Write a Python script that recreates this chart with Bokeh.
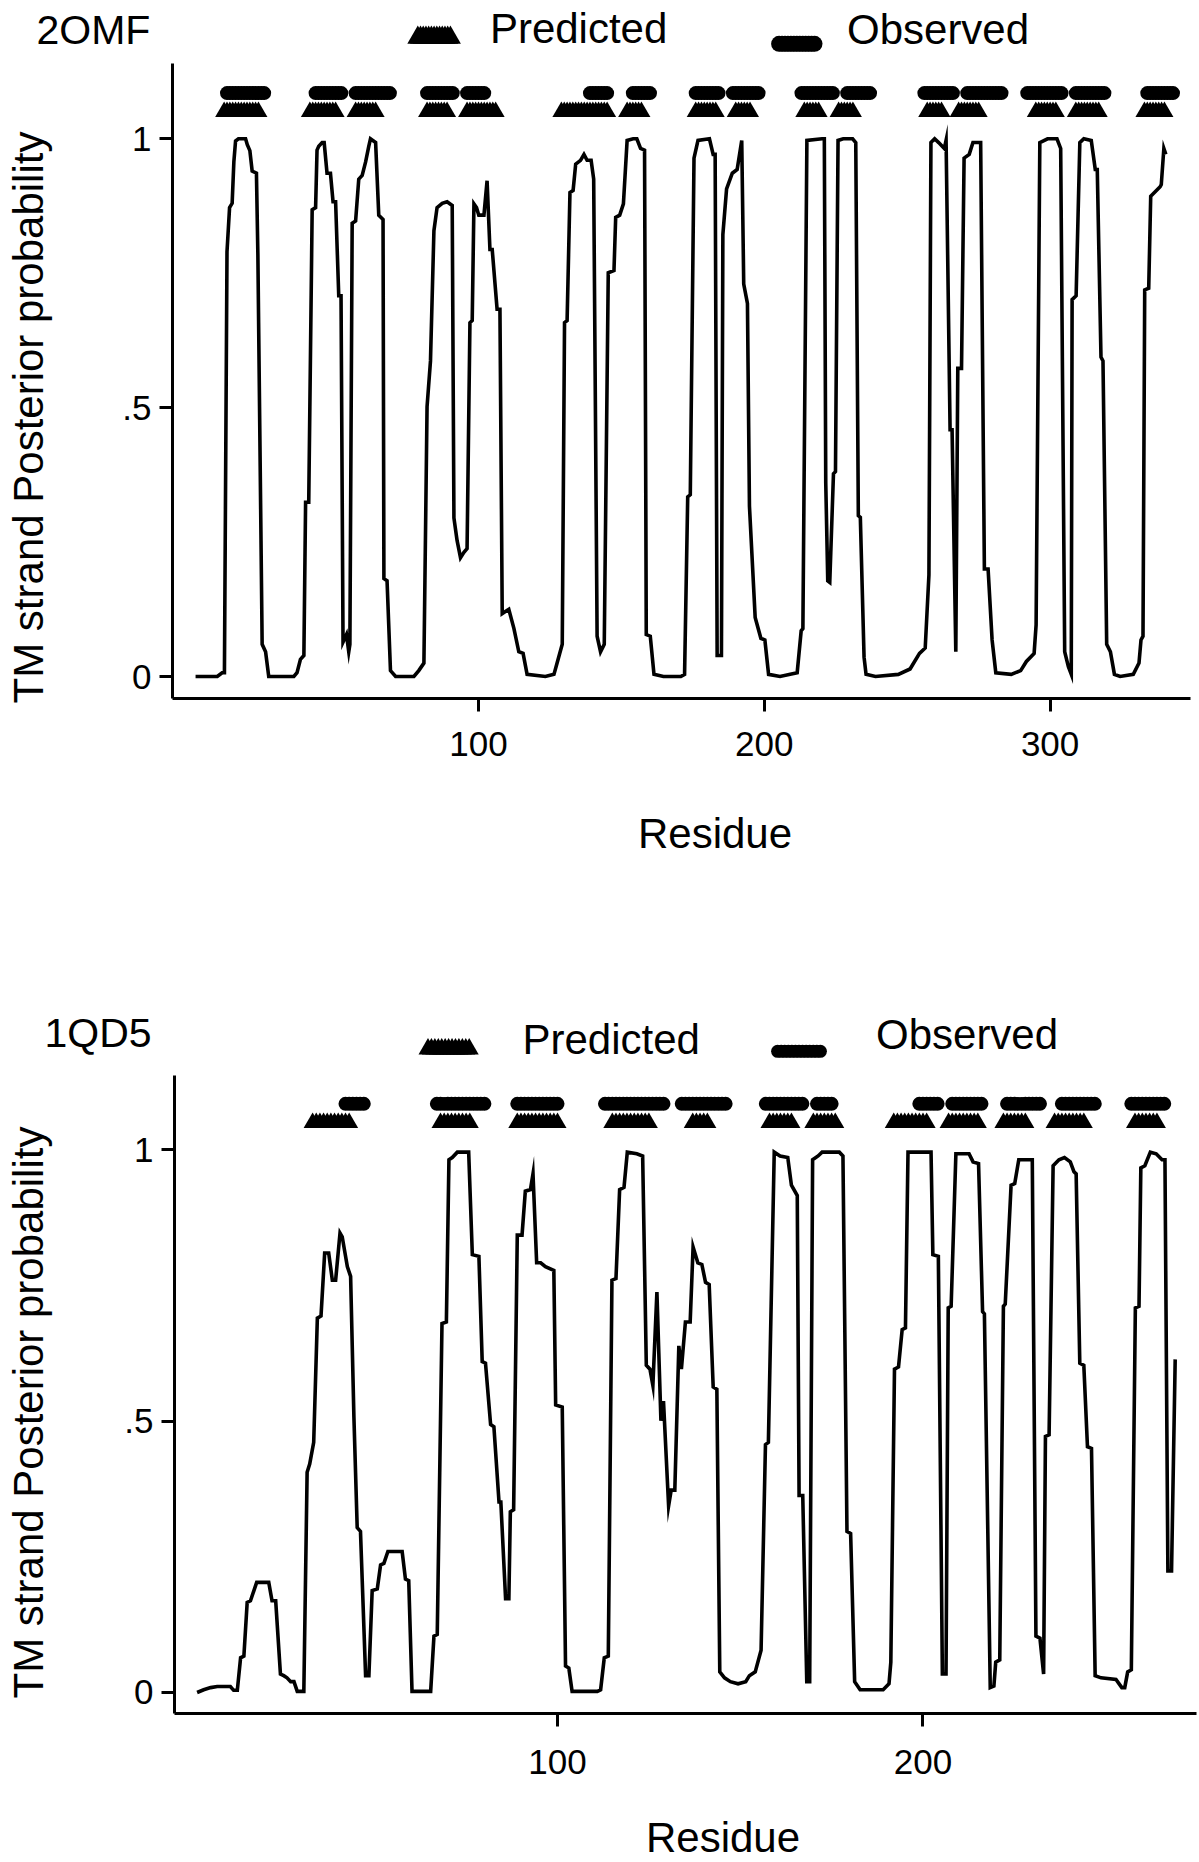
import numpy as np
from bokeh.plotting import figure
from bokeh.models import Range1d, FixedTicker, Label
from bokeh.layouts import column
from bokeh.embed import file_html
from bokeh.resources import INLINE

FONT = "Liberation Sans"

# ---------------- 2OMF data ----------------
omf_residue = [1.0, 8.6, 10.3, 11.1, 12.0, 12.9, 13.8, 14.4, 15.0, 16.0, 18.5, 19.1, 20.0, 20.8, 22.3, 22.8, 24.3, 25.5, 26.6, 35.4,
               36.5, 37.7, 38.9, 39.5, 40.6, 41.8, 43.0, 43.5, 44.1, 45.3, 46.0, 47.0, 48.2, 49.1, 50.0, 51.1, 51.9, 52.6, 53.8, 54.6,
               55.0, 55.8, 57.0, 58.1, 59.3, 60.5, 61.6, 62.2, 64.0, 65.1, 66.6, 66.9, 68.0, 69.2, 71.0, 77.4, 79.1, 80.9, 82.0, 83.2,
               84.4, 85.5, 87.3, 89.0, 90.8, 91.4, 92.5, 93.7, 94.9, 96.0, 97.0, 97.8, 98.4, 99.3, 100.1, 101.9, 103.0, 104.0, 104.8, 106.5,
               107.5, 108.3, 110.6, 112.4, 114.1, 115.6, 117.0, 123.4, 126.4, 127.5, 129.3, 130.1, 131.0, 132.0, 133.1, 134.0, 135.7, 136.9, 138.0, 139.4,
               140.3, 141.5, 142.7, 144.0, 145.4, 147.4, 148.0, 149.4, 150.7, 152.0, 154.1, 155.4, 156.7, 158.1, 158.7, 160.1, 161.4, 164.7, 170.8, 172.1,
               173.2, 174.1, 175.4, 176.8, 180.8, 182.1, 182.8, 183.5, 185.0, 185.5, 186.8, 188.8, 190.5, 192.1, 192.8, 194.1, 194.8, 196.8, 198.8, 200.2,
               201.5, 205.5, 211.5, 212.9, 213.5, 214.9, 220.2, 221.0, 221.5, 222.2, 222.9, 224.2, 224.9, 225.8, 227.6, 230.9, 232.0, 232.9, 233.6, 234.9,
               235.6, 238.9, 246.9, 251.0, 254.3, 256.3, 257.6, 258.3, 259.6, 261.0, 263.0, 263.6, 265.0, 265.7, 267.0, 267.7, 269.0, 269.9, 271.7, 273.0,
               275.7, 277.0, 278.3, 279.7, 281.0, 286.4, 289.7, 291.7, 294.4, 295.1, 296.4, 299.1, 302.4, 303.7, 305.1, 306.4, 307.4, 307.7, 309.1, 310.4,
               311.8, 314.4, 315.8, 316.5, 317.8, 318.5, 319.8, 321.1, 322.5, 324.5, 329.1, 331.1, 331.8, 332.5, 333.1, 334.5, 335.2, 336.5, 338.5, 338.9,
               339.8, 340.5]
omf_prob = [0.0, 0.0, 0.007, 0.007, 0.79, 0.872, 0.88, 0.957, 0.996, 1.0, 1.0, 0.989, 0.978, 0.94, 0.936, 0.786, 0.06, 0.046, 0.0, 0.0,
            0.007, 0.032, 0.039, 0.324, 0.324, 0.868, 0.872, 0.979, 0.986, 0.993, 0.993, 0.936, 0.936, 0.883, 0.883, 0.708, 0.708, 0.064, 0.078, 0.046,
            0.06, 0.843, 0.847, 0.925, 0.932, 0.957, 0.986, 1.0, 0.993, 0.858, 0.85, 0.182, 0.178, 0.011, 0.0, 0.0, 0.011, 0.025, 0.502, 0.587,
            0.829, 0.872, 0.88, 0.883, 0.876, 0.295, 0.253, 0.221, 0.231, 0.238, 0.658, 0.662, 0.879, 0.872, 0.858, 0.858, 0.922, 0.794, 0.794, 0.683,
            0.683, 0.117, 0.125, 0.089, 0.046, 0.043, 0.004, 0.0, 0.004, 0.025, 0.06, 0.658, 0.662, 0.9, 0.904, 0.953, 0.96, 0.971, 0.96, 0.96,
            0.925, 0.075, 0.046, 0.06, 0.751, 0.755, 0.854, 0.858, 0.879, 0.997, 1.0, 1.0, 0.982, 0.979, 0.078, 0.075, 0.004, 0.0, 0.0, 0.004,
            0.334, 0.338, 0.964, 0.997, 1.0, 0.971, 0.971, 0.039, 0.039, 0.822, 0.907, 0.936, 0.943, 0.997, 0.73, 0.694, 0.317, 0.11, 0.071, 0.068,
            0.004, 0.0, 0.007, 0.085, 0.089, 0.997, 1.0, 1.0, 0.36, 0.178, 0.175, 0.377, 0.381, 0.997, 1.0, 1.0, 0.993, 0.299, 0.296, 0.036,
            0.004, 0.0, 0.004, 0.014, 0.043, 0.053, 0.189, 0.993, 1.0, 0.993, 0.982, 0.997, 0.459, 0.459, 0.046, 0.573, 0.573, 0.964, 0.971, 0.993,
            0.993, 0.2, 0.2, 0.068, 0.007, 0.004, 0.011, 0.028, 0.043, 0.096, 0.993, 1.0, 1.0, 0.982, 0.046, 0.018, 0.004, 0.701, 0.708, 0.993,
            1.0, 0.997, 0.943, 0.943, 0.594, 0.587, 0.06, 0.046, 0.004, 0.0, 0.004, 0.025, 0.068, 0.075, 0.719, 0.722, 0.893, 0.9, 0.911, 0.915,
            0.982, 0.971]
omf_predicted = [(11, 23), (41, 50), (57, 64), (82, 89), (96, 106), (129, 145), (152, 157), (176, 183), (190, 195),
                 (214, 219), (226, 231), (257, 262), (268, 275), (295, 302), (309, 317), (333, 340)]
omf_observed = [(12, 25), (43, 52), (57, 69), (82, 91), (96, 102), (139, 145), (154, 160), (176, 184), (189, 198),
                (213, 224), (229, 237), (256, 266), (271, 283), (292, 304), (309, 319), (334, 343)]
omf_xticks = [100, 200, 300]

# ---------------- 1QD5 data ----------------
qd5_residue = [1.4, 3.2, 5.1, 6.9, 10.5, 11.4, 12.4, 13.3, 14.2, 15.1, 16.0, 17.7, 21.0, 21.9, 22.9, 24.2, 25.1, 26.0, 27.0, 27.9,
               28.8, 30.6, 31.5, 32.2, 33.3, 34.3, 35.3, 36.3, 37.4, 38.4, 39.3, 40.5, 41.1, 42.5, 43.4, 44.3, 45.2, 46.1, 47.5, 48.4,
               49.3, 50.7, 51.6, 52.5, 53.6, 57.5, 58.4, 59.3, 60.2, 65.3, 66.2, 67.1, 68.4, 69.6, 70.3, 71.2, 72.6, 75.7, 76.7, 78.5,
               79.4, 80.3, 81.7, 82.6, 84.0, 84.5, 85.8, 86.7, 87.1, 88.0, 89.0, 90.3, 91.2, 92.6, 93.3, 94.3, 95.4, 96.7, 99.0, 99.5,
               101.3, 102.2, 103.1, 104.0, 110.9, 111.8, 112.8, 113.9, 114.9, 116.0, 117.0, 118.2, 119.1, 121.7, 123.3, 124.3, 125.3, 126.1, 127.2, 128.3,
               129.0, 130.4, 131.1, 132.1, 133.2, 133.9, 135.0, 136.3, 137.1, 138.4, 139.5, 140.5, 141.5, 142.6, 143.6, 144.4, 145.7, 147.3, 149.4, 151.5,
               152.5, 154.1, 155.7, 156.9, 157.7, 159.3, 160.9, 163.0, 164.0, 165.6, 166.1, 167.1, 168.2, 169.0, 169.8, 171.3, 172.4, 177.1, 178.1, 179.2,
               180.2, 181.3, 182.8, 189.1, 190.7, 191.2, 192.2, 193.3, 194.3, 195.2, 195.9, 202.2, 202.7, 204.2, 205.3, 206.3, 206.9, 207.7, 209.0, 212.6,
               213.7, 215.2, 216.3, 216.8, 218.4, 219.4, 219.9, 221.0, 222.0, 222.5, 224.1, 225.1, 226.2, 229.9, 230.9, 232.0, 233.0, 233.5, 234.5, 235.6,
               237.2, 238.7, 240.3, 241.3, 241.9, 242.9, 244.0, 245.0, 246.1, 247.1, 248.7, 252.8, 254.4, 255.2, 256.0, 257.0, 258.1, 259.1, 259.6, 260.7,
               262.2, 263.8, 265.4, 266.2, 267.0, 268.0, 269.0]
qd5_prob = [0.0, 0.005, 0.009, 0.011, 0.011, 0.004, 0.004, 0.064, 0.067, 0.166, 0.169, 0.203, 0.203, 0.169, 0.169, 0.034, 0.031, 0.027, 0.02, 0.02,
            0.002, 0.002, 0.406, 0.421, 0.461, 0.69, 0.694, 0.81, 0.81, 0.76, 0.76, 0.847, 0.84, 0.785, 0.767, 0.508, 0.304, 0.297, 0.031, 0.031,
            0.188, 0.191, 0.235, 0.238, 0.26, 0.26, 0.209, 0.206, 0.002, 0.002, 0.104, 0.107, 0.68, 0.683, 0.982, 0.986, 0.996, 0.996, 0.807, 0.804,
            0.61, 0.607, 0.494, 0.49, 0.351, 0.351, 0.173, 0.173, 0.333, 0.337, 0.843, 0.843, 0.924, 0.927, 0.956, 0.792, 0.792, 0.785, 0.778, 0.53,
            0.526, 0.049, 0.045, 0.002, 0.002, 0.005, 0.064, 0.067, 0.76, 0.763, 0.927, 0.931, 0.996, 0.993, 0.989, 0.603, 0.596, 0.566, 0.738, 0.501,
            0.537, 0.344, 0.373, 0.373, 0.639, 0.596, 0.683, 0.683, 0.821, 0.792, 0.789, 0.756, 0.752, 0.563, 0.559, 0.038, 0.027, 0.02, 0.016, 0.02,
            0.031, 0.038, 0.078, 0.457, 0.461, 0.996, 0.989, 0.986, 0.935, 0.916, 0.363, 0.363, 0.02, 0.02, 0.982, 0.989, 0.996, 0.996, 0.989, 0.297,
            0.293, 0.02, 0.005, 0.005, 0.016, 0.056, 0.596, 0.6, 0.669, 0.672, 0.996, 0.996, 0.807, 0.804, 0.034, 0.034, 0.709, 0.712, 0.993, 0.993,
            0.978, 0.975, 0.702, 0.698, 0.009, 0.012, 0.056, 0.06, 0.712, 0.716, 0.935, 0.938, 0.982, 0.982, 0.104, 0.1, 0.034, 0.472, 0.475, 0.971,
            0.982, 0.986, 0.978, 0.96, 0.956, 0.607, 0.603, 0.453, 0.45, 0.031, 0.027, 0.024, 0.009, 0.009, 0.038, 0.042, 0.709, 0.712, 0.967, 0.971,
            0.996, 0.993, 0.982, 0.982, 0.224, 0.224, 0.614]
qd5_predicted = [(33, 43), (68, 76), (89, 100), (115, 125), (137, 141), (158, 164), (170, 176), (192, 201),
                 (207, 215), (222, 228), (236, 244), (258, 264)]
qd5_observed = [(42, 47), (67, 80), (89, 100), (113, 129), (134, 146), (157, 167), (171, 175), (199, 204),
                (208, 216), (223, 232), (238, 247), (257, 266)]
qd5_xticks = [100, 200]

y_ticks = [0, 0.5, 1]
y_tick_labels = {0: "0", 0.5: ".5", 1: "1"}
PRED_LEVEL = 1.05
OBS_LEVEL = 1.085


def expand(strands):
    out = []
    for a, b in strands:
        out.extend(range(a, b + 1))
    return out


PAGE_W = 1199
BASELINE_FIX = 13  # px: Label's alphabetic baseline renders this much below its anchor


def make_panel(name, residue, prob, pred, obs, xticks, L):
    # L: layout in page pixels; the whole figure is the plotting frame,
    # axes are pinned at fixed data locations inside it.
    top, h = L["top"], L["h"]
    xr, yr = L["xr"], L["yr"]

    def fx(px):
        return xr[0] + px / PAGE_W * (xr[1] - xr[0])

    def fy(py):
        return yr[1] - (py - top) / h * (yr[1] - yr[0])

    p = figure(width=PAGE_W, height=h, x_range=Range1d(*xr), y_range=Range1d(*yr),
               output_backend="svg", toolbar_location=None, title=None,
               min_border_left=0, min_border_right=0, min_border_top=0, min_border_bottom=0)
    p.outline_line_color = None
    p.xgrid.visible = False
    p.ygrid.visible = False
    p.background_fill_color = "white"
    p.border_fill_color = "white"

    ax_l, ax_r, ax_b, ax_t = L["axes"]
    for ax in (p.xaxis[0], p.yaxis[0]):
        ax.axis_line_width = 3
        ax.axis_line_color = "black"
        ax.major_tick_line_width = 3
        ax.major_tick_line_color = "black"
        ax.major_tick_out = 13
        ax.major_tick_in = 0
        ax.minor_tick_out = 0
        ax.minor_tick_in = 0
        ax.major_label_text_font = FONT
        ax.major_label_text_font_size = "35px"
        ax.major_label_text_color = "black"
    p.xaxis.ticker = FixedTicker(ticks=xticks)
    p.xaxis.major_label_standoff = L["xstandoff"]
    p.xaxis.fixed_location = fy(ax_b)
    p.xaxis.bounds = (fx(ax_l), fx(ax_r))
    p.yaxis.ticker = FixedTicker(ticks=y_ticks)
    p.yaxis.major_label_overrides = y_tick_labels
    p.yaxis.major_label_standoff = 8
    p.yaxis.fixed_location = fx(ax_l)
    p.yaxis.bounds = (fy(ax_b), fy(ax_t))

    # probability curve
    p.line(residue, prob, line_width=3.6, color="black", line_join="miter")

    # strand markers
    pr = expand(pred)
    ob = expand(obs)
    p.scatter(pr, [PRED_LEVEL] * len(pr), marker="triangle", size=18, fill_color="black", line_color=None)
    p.scatter(ob, [OBS_LEVEL] * len(ob), marker="circle", size=14, fill_color="black", line_color=None)

    # legend keys (drawn like the strand markers)
    k = L["pred_key"]
    xs = [fx(v) for v in np.linspace(k[0], k[1], 13)]
    p.scatter(xs, [fy(k[2])] * len(xs), marker="triangle", size=k[3], fill_color="black", line_color=None)
    k = L["obs_key"]
    xs = [fx(v) for v in np.linspace(k[0], k[1], 13)]
    p.scatter(xs, [fy(k[2])] * len(xs), marker="circle", size=k[3], fill_color="black", line_color=None)

    def lab(text, px, py, align="left", angle=0.0, size="42px"):
        if angle:
            px -= BASELINE_FIX
        else:
            py -= BASELINE_FIX
        p.add_layout(Label(x=fx(px), y=fy(py), text=text, text_font=FONT, text_font_size=size,
                           text_color="black", text_align=align, text_baseline="alphabetic", angle=angle))

    lab(name, *L["title"], size="41px")
    lab("Predicted", *L["pred_text"])
    lab("Observed", *L["obs_text"])
    lab("Residue", *L["xlabel"], align="center")
    lab("TM strand Posterior probability", *L["ylabel"], align="center", angle=np.pi / 2)
    return p


top_layout = dict(top=0, h=936, xr=(-67.25, 352.27), yr=(-0.4835, 1.2572),
                  axes=(172, 1190, 698, 63), xstandoff=20,
                  pred_key=(417.3, 449.9, 37.2, 21), obs_key=(778.6, 814.0, 43.3, 16),
                  title=(36, 42), pred_text=(489.4, 40.7), obs_text=(846.5, 41.7),
                  xlabel=(714.5, 846), ylabel=(41, 417))
bot_layout = dict(top=936, h=924, xr=(-52.39, 275.65), yr=(-0.3097, 1.3935),
                  axes=(174, 1196, 1713, 1075), xstandoff=23,
                  pred_key=(427.5, 468.7, 1048.5, 19), obs_key=(777.1, 819.9, 1050.8, 13),
                  title=(44, 1045), pred_text=(522, 1051.7), obs_text=(875.5, 1046.7),
                  xlabel=(722.5, 1850), ylabel=(41, 1412))

p1 = make_panel("2OMF", omf_residue, omf_prob, omf_predicted, omf_observed, omf_xticks, top_layout)
p2 = make_panel("1QD5", qd5_residue, qd5_prob, qd5_predicted, qd5_observed, qd5_xticks, bot_layout)

page = column(p1, p2, spacing=0)
open("out.html", "w").write(file_html(page, INLINE))
